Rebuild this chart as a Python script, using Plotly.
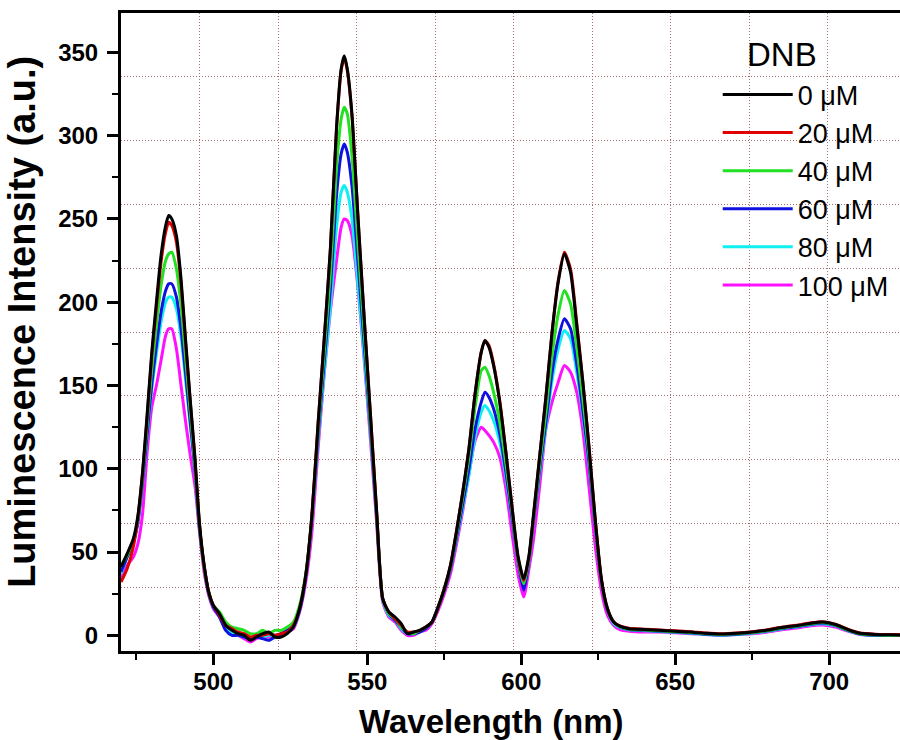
import plotly.graph_objects as go

wavelength = [470, 472, 474, 475.5, 477, 478.5, 480, 481.5, 483, 484.5, 485.5, 486.5, 488, 489.5, 491, 492.5, 494, 495.5, 497, 498.5, 500,
              502, 504, 506, 508, 510, 512, 514, 516, 518, 520, 522, 524, 526,
              528, 530, 532, 534, 536, 538, 540, 541.5, 542.5, 543.5, 545, 547, 549, 551, 553, 555,
              557, 559, 561, 563, 565, 567, 569,
              571, 573, 575, 577, 579, 581, 583, 585, 587, 588.2, 589.5, 591, 593, 595, 597, 599, 600.8,
              602.5, 604, 606, 608, 610, 612, 614, 616, 618, 620, 622, 624, 626, 628, 630,
              632, 635, 640, 645, 650, 655, 660, 665, 670, 675, 680, 685, 690, 694, 698, 702, 706, 710, 715, 720, 723]

i_0uM = [41, 49, 58, 72, 98, 133, 170, 200, 228, 246, 252, 250, 240, 214, 177, 141, 107, 67, 42, 26, 18,
         13, 6, 3, 1, 0, -3, -1, 1, 2, -1, -1, 1, 5,
         16, 36, 72, 127, 178, 232, 305, 340, 348, 340, 313, 250, 190, 133, 75, 22,
         14, 11, 7, 1, 2, 3, 5,
         8, 17, 28, 42, 63, 86, 112, 145, 170, 177, 173, 162, 140, 110, 77, 47, 34,
         48, 73, 108, 143, 182, 212, 229, 218, 186, 152, 113, 70, 34, 16, 8,
         5.5, 4, 3.5, 3, 2.5, 2, 1.2, 0.8, 1.2, 2, 3.2, 4.8, 6, 7.3, 8, 6.5, 3.5, 1.2, 0.5, 0.3, 0.2]

i_20uM = [32, 40, 53, 71, 97, 131, 168, 197, 224, 242, 248, 246, 236, 211, 175, 140, 106, 66, 42, 26, 18,
          12, 6, 4, 2, 1, -1, 0, 0, 1, 0, 1, 2, 6,
          16, 36, 72, 127, 178, 232, 304, 339, 347, 339, 312, 250, 190, 133, 75, 22,
          14, 10, 6, 2, 2, 3, 5,
          8, 17, 28, 42, 63, 86, 112, 145, 170, 177, 174, 163, 141, 110, 77, 46, 33,
          47, 72, 108, 143, 182, 213, 230, 220, 188, 152, 113, 70, 34, 16, 8,
          5.7, 4.2, 3.7, 3.2, 2.7, 2.2, 1.4, 1, 1.4, 2.2, 3.4, 5, 6.2, 7.5, 8.2, 6.7, 3.7, 1.4, 0.7, 0.5, 0.4]

i_40uM = [42, 48, 57, 70, 95, 127, 160, 186, 210, 225, 229, 230, 220, 198, 166, 134, 103, 66, 41, 26, 18,
          14, 8, 5, 4, 3, 1, 1, 3, 1, 3, 3, 5, 8,
          18, 37, 71, 123, 170, 218, 281, 310, 317, 313, 288, 234, 181, 128, 74, 22,
          13, 10, 5, 2, 1, 3, 5,
          8, 17, 28, 41, 61, 83, 107, 137, 159, 161, 156, 146, 128, 103, 74, 45, 31,
          46, 71, 103, 134, 168, 193, 207, 199, 173, 142, 108, 68, 33, 16, 8,
          5.2, 3.7, 3.2, 2.7, 2.2, 1.7, 1, 0.5, 1, 1.7, 2.9, 4.5, 5.7, 7, 7.7, 6.2, 3.2, 1, 0.3, 0.1, 0]

i_60uM = [38, 47, 56, 68, 92, 121, 151, 174, 194, 207, 211, 211, 203, 184, 157, 128, 100, 64, 41, 25, 17,
          11, 3, 0, 0, -1, -2, -1, -2, -3, -1, 1, 3, 6,
          15, 35, 70, 120, 164, 208, 264, 289, 295, 290, 270, 223, 174, 125, 72, 22,
          13, 9, 5, 1, 1, 2, 4,
          8, 17, 27, 40, 59, 79, 100, 124, 140, 146, 143, 136, 121, 98, 71, 44, 27,
          45, 69, 100, 128, 158, 178, 190, 184, 163, 135, 104, 66, 33, 15, 8,
          5, 3.5, 3, 2.5, 2, 1.5, 0.7, 0.3, 0.7, 1.5, 2.7, 4.2, 5.4, 6.7, 7.4, 6, 3, 0.8, 0.1, 0, 0]

i_80uM = [37, 47, 55, 68, 91, 119, 148, 169, 188, 200, 203, 203, 196, 179, 153, 126, 98, 63, 41, 25, 17,
          11, 4, 1, 0, -1, -2, -1, -1, 0, 0, 1, 3, 5,
          15, 35, 69, 117, 158, 197, 245, 266, 270, 266, 250, 210, 167, 122, 71, 21,
          12, 9, 4, 1, 1, 2, 4,
          8, 17, 27, 40, 58, 77, 96, 119, 134, 138, 135, 129, 116, 95, 70, 43, 29,
          44, 68, 98, 125, 153, 172, 183, 178, 158, 132, 102, 66, 33, 15, 7,
          4.8, 3.3, 2.8, 2.3, 1.8, 1.3, 0.5, 0.1, 0.5, 1.3, 2.5, 4, 5.2, 6.4, 7, 5.7, 2.8, 0.7, 0, 0, 0]

i_100uM = [34, 42, 47, 55, 73, 110, 137, 150, 165, 180, 184, 184, 172, 150, 128, 108, 90, 62, 38, 24, 16,
           11, 4, 1, 0, -2, -4, -2, -1, -1, 0, 0, 2, 4,
           14, 32, 62, 112, 157, 195, 225, 245, 250, 249, 240, 208, 165, 118, 68, 20,
           11, 8, 3, 0, 0, 2, 3,
           7, 15, 25, 37, 55, 75, 97, 117, 125, 123, 120, 116, 107, 88, 61, 36, 23,
           40, 58, 90, 124, 140, 152, 162, 158, 146, 123, 89, 54, 27, 12, 6,
           3.5, 2.5, 2, 2, 1.5, 1, 0.5, 0, 0.5, 1, 2, 3.5, 4.5, 5.8, 6.2, 5, 2.5, 0.5, 0, 0, 0]

labels = ["0 μM", "20 μM", "40 μM", "60 μM", "80 μM", "100 μM"]
series = [i_0uM, i_20uM, i_40uM, i_60uM, i_80uM, i_100uM]
colors = ["#000000", "#E00000", "#22E022", "#1010E0", "#10F0F0", "#FF10FF"]

FONT = "Liberation Sans"

fig = go.Figure()
# invisible trace on the grid (base) axes
fig.add_trace(go.Scatter(x=[None], y=[None], xaxis="x", yaxis="y", showlegend=False, hoverinfo="skip"))

# draw 100 uM first, 0 uM last (on top)
for lab, ys, col in reversed(list(zip(labels, series, colors))):
    fig.add_trace(go.Scatter(x=wavelength, y=ys, name=lab, mode="lines",
                             line=dict(color=col, width=3, shape="spline", smoothing=0.6),
                             xaxis="x2", yaxis="y2"))

axis_font = dict(family=FONT, size=24, color="black", weight="bold")

fig.update_layout(
    width=900, height=740,
    margin=dict(l=121, r=0, t=13, b=89),
    paper_bgcolor="white", plot_bgcolor="white",
    showlegend=True,
    xaxis=dict(range=[0, 9.917], dtick=1, tick0=0, showgrid=True, gridcolor="#a07070",
               griddash="1px,2px", gridwidth=1, showticklabels=False, ticks="",
               showline=False, zeroline=False),
    yaxis=dict(range=[0, 10], dtick=1, tick0=0, showgrid=True, gridcolor="#a07070",
               griddash="1px,2px", gridwidth=1, showticklabels=False, ticks="",
               showline=False, zeroline=False),
    xaxis2=dict(overlaying="x", anchor="y2", side="bottom", range=[470, 723],
                showline=True, linewidth=3, linecolor="black", mirror=True,
                ticks="outside", ticklen=11, tickwidth=2.5, tickcolor="black",
                dtick=50, tick0=0, tickfont=axis_font, ticklabelstandoff=-4,
                minor=dict(dtick=25, tick0=0, ticks="outside", ticklen=6, tickwidth=2, tickcolor="black"),
                showgrid=False, zeroline=False),
    yaxis2=dict(overlaying="y", anchor="x2", side="left", range=[-9.4, 373.6],
                showline=True, linewidth=3, linecolor="black", mirror=False,
                ticks="outside", ticklen=11, tickwidth=2.5, tickcolor="black",
                dtick=50, tick0=0, tickfont=axis_font, ticklabelstandoff=4,
                minor=dict(dtick=25, tick0=0, ticks="outside", ticklen=6, tickwidth=2, tickcolor="black"),
                showgrid=False, zeroline=False),
    legend=dict(x=0.766, y=0.91, xanchor="left", yanchor="top",
                traceorder="reversed", bgcolor="rgba(0,0,0,0)",
                font=dict(family=FONT, size=27, color="black"),
                itemwidth=70),
    annotations=[
        dict(text="DNB", xref="paper", yref="paper", x=0.849, y=0.935,
             xanchor="center", yanchor="middle", showarrow=False,
             font=dict(family=FONT, size=33, color="black")),
        dict(text="<b>Wavelength (nm)</b>", xref="paper", yref="paper", x=0.476, y=-0.11,
             xanchor="center", yanchor="middle", showarrow=False,
             font=dict(family=FONT, size=33, color="black")),
        dict(text="<b>Luminescence Intensity (a.u.)</b>", xref="paper", yref="paper", x=-0.127, y=0.516,
             xanchor="center", yanchor="middle", textangle=-90, showarrow=False,
             font=dict(family=FONT, size=38, color="black")),
    ],
)

fig.write_html("out.html")
